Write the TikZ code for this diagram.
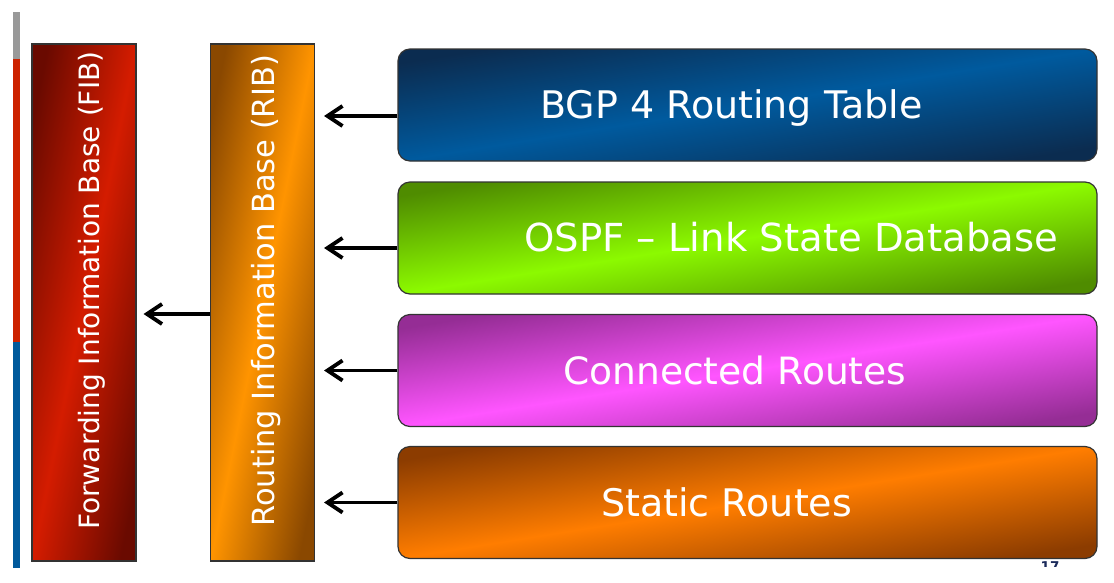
\documentclass[tikz,border=0pt]{standalone}
\usepackage{fontspec}
\setmainfont{DejaVu Sans}
\usetikzlibrary{arrows.meta}
\definecolor{fibD}{HTML}{6A0A00}
\definecolor{fibB}{HTML}{D41C00}
\definecolor{ribD}{HTML}{8A4800}
\definecolor{ribB}{HTML}{FF9400}
\definecolor{bgpD}{HTML}{0B2C50}
\definecolor{bgpB}{HTML}{005A9E}
\definecolor{ospD}{HTML}{4F8C00}
\definecolor{ospB}{HTML}{8CFA00}
\definecolor{conD}{HTML}{952D95}
\definecolor{conB}{HTML}{FF55FF}
\definecolor{staD}{HTML}{8C3C00}
\definecolor{staB}{HTML}{FF7D00}
\definecolor{stripeG}{HTML}{999999}
\definecolor{stripeR}{HTML}{CC2200}
\definecolor{stripeB}{HTML}{005A9C}
\definecolor{pagenum}{HTML}{1A2A5A}
\tikzset{
  grad/.style n args={3}{left color=#1, right color=#1, middle color=#2, shading angle=#3},
  basebox/.style={draw=black!80, line width=1.2pt, inner sep=0pt},
  tallbox/.style={basebox, minimum width=104pt, minimum height=517pt},
  srcbox/.style={basebox, rounded corners=12pt, minimum width=699pt, minimum height=112pt},
  boxtext/.style={text=white, inner sep=0pt, anchor=base west, font=\fontsize{38}{40}\selectfont},
  vtext/.style={text=white, inner sep=0pt, anchor=base west, rotate=90},
  arr/.style={line width=3.8pt, -{Straight Barb[length=15pt, width=20pt, line width=3.8pt]}},
}
\begin{document}
\begin{tikzpicture}[x=1pt, y=-1pt]
\useasboundingbox (0,0) rectangle (1114,582);
% left stripe
\fill[stripeG] (13,12) rectangle (20,59);
\fill[stripeR] (13,59) rectangle (20,342);
\fill[stripeB] (13,342) rectangle (20,568);
% tall boxes
\node[tallbox, grad={fibD}{fibB}{78.6}] (fib) at (84,302.5) {};
\node[tallbox, grad={ribD}{ribB}{78.6}] (rib) at (262.5,302.5) {};
\node[vtext, font=\fontsize{28}{30}\selectfont] (fibt) at (99,530) {Forwarding Information Base (FIB)};
\node[vtext, font=\fontsize{30.5}{32}\selectfont] (ribt) at (274,527) {Routing Information Base (RIB)};
% source boxes
\node[srcbox, grad={bgpD}{bgpB}{9.1}] (bgp) at (747.5,105) {};
\node[srcbox, grad={ospD}{ospB}{9.1}] (ospf) at (747.5,238) {};
\node[srcbox, grad={conD}{conB}{9.1}] (con) at (747.5,370.5) {};
\node[srcbox, grad={staD}{staB}{9.1}] (sta) at (747.5,502.5) {};
\node[boxtext] (bgpt) at (540,118) {BGP 4 Routing Table};
\node[boxtext, font=\fontsize{38.6}{40}\selectfont] (ospft) at (524,251) {OSPF – Link State Database};
\node[boxtext, font=\fontsize{37.6}{40}\selectfont] (cont) at (563,384) {Connected Routes};
\node[boxtext] (stat) at (601,516) {Static Routes};
% arrows
\draw[arr, shorten >=9pt] ([yshift=-11pt]bgp.west) -- ([yshift=-11pt]bgp.west -| rib.east);
\draw[arr, shorten >=9pt] ([yshift=-10pt]ospf.west) -- ([yshift=-10pt]ospf.west -| rib.east);
\draw[arr, shorten >=9pt] (con.west) -- (con.west -| rib.east);
\draw[arr, shorten >=9pt] (sta.west) -- (sta.west -| rib.east);
\coordinate (mid) at (0,314);
\draw[arr, shorten >=7pt] (rib.west |- mid) -- (fib.east |- mid);
% page number (cut off at the bottom)
\begin{scope}
\clip (1000,555) rectangle (1100,566);
\node[text=pagenum, inner sep=0pt, anchor=north, font=\bfseries\fontsize{13.5}{14}\selectfont] (pg) at (1050,561) {17};
\end{scope}
\end{tikzpicture}
\end{document}
